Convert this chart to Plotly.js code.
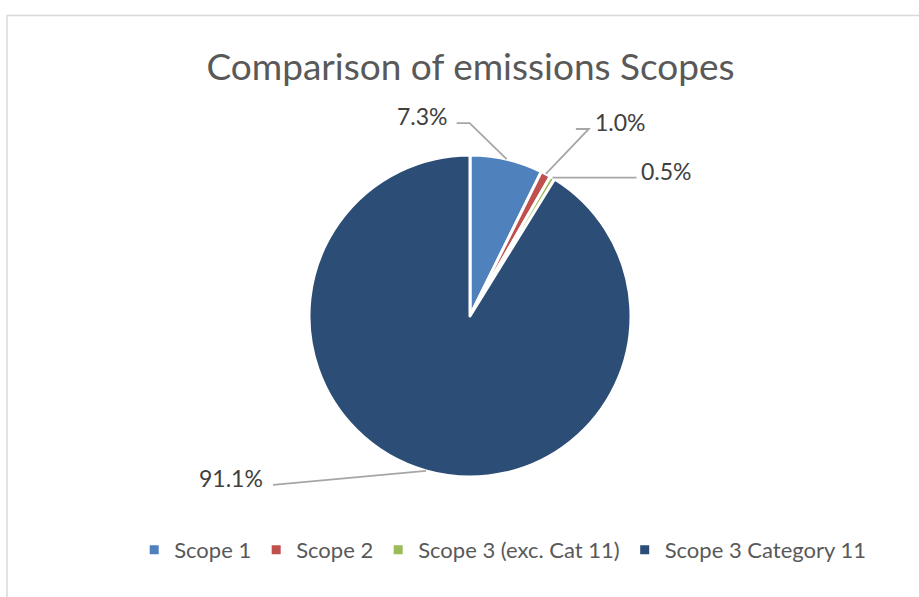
<!DOCTYPE html>
<html>
<head>
<meta charset="utf-8">
<script src="https://cdn.plot.ly/plotly-3.0.1.min.js"></script>
<style>html,body{margin:0;padding:0;background:#fff;}#chart{width:919px;height:597px;}</style>
</head>
<body>
<div id="chart"></div>
<script>
// ---- data ----
const categories = ["Scope 1", "Scope 2", "Scope 3 (exc. Cat 11)", "Scope 3 Category 11"];
const shares = [7.3, 1.0, 0.5, 91.1];
const sliceColors = ["#4F81BD", "#C0504D", "#9BBB59", "#2C4D75"];
const chartTitle = "Comparison of emissions Scopes";

// ---- layout config (pixels) ----
const W = 919, H = 597;
const cx = 470, cy = 316, R = 161;
// label text centre offsets relative to the slice edge point, plus leader elbow / end
const labelCfg = [
  {tx: -84, ty: -43, elbow: [-37, -36], end: [-50, -36]},
  {tx: 75, ty: -52, elbow: [43, -45], end: [30, -45]},
  {tx: 114, ty: -7, elbow: null, end: [84, 0]},
  {tx: -195, ty: 7, elbow: null, end: [-153, 14]}
];

const px = x => x / W;
const py = y => 1 - y / H;

const total = shares.reduce((a, b) => a + b, 0);
const annotations = [];
const shapes = [];
let cum = 0;
shares.forEach((v, i) => {
  const mid = (cum + v / 2) / total * 2 * Math.PI;
  cum += v;
  const ex = cx + R * Math.sin(mid);
  const ey = cy - R * Math.cos(mid);
  const c = labelCfg[i];
  let path = `M ${px(ex)} ${py(ey)}`;
  if (c.elbow) path += ` L ${px(ex + c.elbow[0])} ${py(ey + c.elbow[1])}`;
  path += ` L ${px(ex + c.end[0])} ${py(ey + c.end[1])}`;
  shapes.push({type: "path", xref: "paper", yref: "paper", path: path,
    line: {color: "#A6A6A6", width: 1.8}});
  annotations.push({
    xref: "paper", yref: "paper",
    x: px(ex + c.tx), y: py(ey + c.ty),
    xanchor: "center", yanchor: "middle",
    text: v.toFixed(1) + "%", showarrow: false,
    font: {family: "Lato, 'Open Sans', sans-serif", size: 23, color: "#404040"}
  });
});

// chart frame
shapes.push({type: "rect", xref: "paper", yref: "paper",
  x0: px(7), x1: px(W + 10), y0: py(H + 10), y1: py(15.5),
  line: {color: "#D9D9D9", width: 1.5}, layer: "below"});

const trace = {
  type: "pie",
  labels: categories,
  values: shares,
  sort: false,
  direction: "clockwise",
  rotation: 0,
  textinfo: "none",
  hoverinfo: "label+percent",
  marker: {colors: sliceColors, line: {color: "#FFFFFF", width: 3}},
  domain: {x: [px(cx - R), px(cx + R)], y: [py(cy + R), py(cy - R)]}
};

const layout = {
  width: W, height: H,
  margin: {l: 0, r: 0, t: 0, b: 0},
  paper_bgcolor: "#FFFFFF",
  title: {text: chartTitle, x: 0.512, xanchor: "center", y: py(67), yanchor: "middle",
    font: {family: "Lato, 'Open Sans', sans-serif", size: 37, color: "#595959"}},
  showlegend: true,
  legend: {orientation: "h", x: 0.547, xanchor: "center", y: py(550), yanchor: "middle",
    font: {family: "Lato, 'Open Sans', sans-serif", size: 22, color: "#595959"},
    itemwidth: 30, tracegroupgap: 0},
  annotations: annotations,
  shapes: shapes
};

Plotly.newPlot("chart", [trace], layout, {displayModeBar: false, staticPlot: true});
</script>
</body>
</html>
